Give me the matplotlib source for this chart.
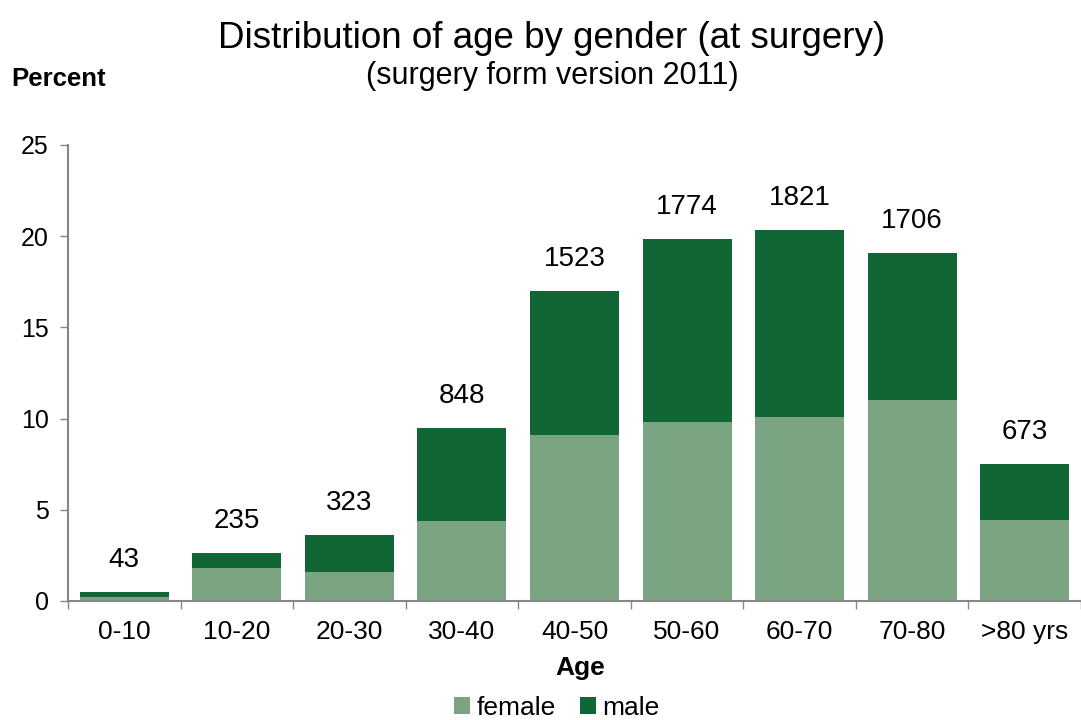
import matplotlib
matplotlib.use("Agg")
import matplotlib.pyplot as plt
from matplotlib.patches import Patch
import numpy as np

categories = ["0-10", "10-20", "20-30", "30-40", "40-50", "50-60", "60-70", "70-80", ">80 yrs"]
female = [0.22, 1.81, 1.59, 4.39, 9.10, 9.81, 10.09, 11.02, 4.44]
male = [0.26, 0.82, 2.02, 5.09, 7.92, 10.02, 10.27, 8.05, 3.08]
counts = [43, 235, 323, 848, 1523, 1774, 1821, 1706, 673]
yticks = [0, 5, 10, 15, 20, 25]

c_female = "#7BA582"
c_male = "#116635"
axis_gray = "#868686"

plt.rcParams['font.family'] = ['Liberation Sans', 'DejaVu Sans']

fig = plt.figure(figsize=(10.81, 7.2), dpi=100)
ax = fig.add_axes([68/1081, 1 - 601/720, 1 - 68/1081, (601 - 145)/720])

x = np.arange(len(categories))
w = 0.79
ax.bar(x, female, width=w, color=c_female, edgecolor='none')
ax.bar(x, male, width=w, bottom=female, color=c_male, edgecolor='none')

totals = np.array(female) + np.array(male)
for xi, t, c in zip(x, totals, counts):
    ax.annotate(str(c), (xi, t), xytext=(0, 23), textcoords='offset points',
                ha='center', va='center', fontsize=20, color='black')

ax.set_xlim(-0.5, -0.5 + (1081 - 68) / 113.6)
ax.set_ylim(0, 25)
ax.set_yticks(yticks)
ax.set_yticklabels([str(v) for v in yticks], fontsize=18)
ax.tick_params(axis='y', length=6, width=1, color=axis_gray, pad=8)

ax.set_xticks(x)
ax.set_xticklabels(categories, fontsize=19)
ax.set_xticks(np.arange(len(categories) + 1) - 0.5, minor=True)
ax.tick_params(axis='x', which='major', length=0, pad=14)
ax.tick_params(axis='x', which='minor', length=6, width=1, color=axis_gray)

for s in ['top', 'right']:
    ax.spines[s].set_visible(False)
for s in ['left', 'bottom']:
    ax.spines[s].set_color(axis_gray)
    ax.spines[s].set_linewidth(1.5)

fig.text(552/1081, 1 - 39/720, "Distribution of age by gender (at surgery)",
         ha='center', va='center', fontsize=26.5)
fig.text(552/1081, 1 - 76/720, "(surgery form version 2011)",
         ha='center', va='center', fontsize=22)
fig.text(11/1081, 1 - 79/720, "Percent", ha='left', va='center',
         fontsize=18.5, fontweight='bold')
fig.text(580/1081, 1 - 668/720, "Age", ha='center', va='center',
         fontsize=19, fontweight='bold')

handles = [Patch(facecolor=c_female, edgecolor='none', label='female'),
           Patch(facecolor=c_male, edgecolor='none', label='male')]
fig.legend(handles=handles, loc='center', bbox_to_anchor=(557/1081, 1 - 708/720),
           ncol=2, frameon=False, fontsize=19, handlelength=0.6, handleheight=0.6,
           handletextpad=0.25, columnspacing=0.9, borderpad=0)

fig.savefig("out.png", dpi=100)
